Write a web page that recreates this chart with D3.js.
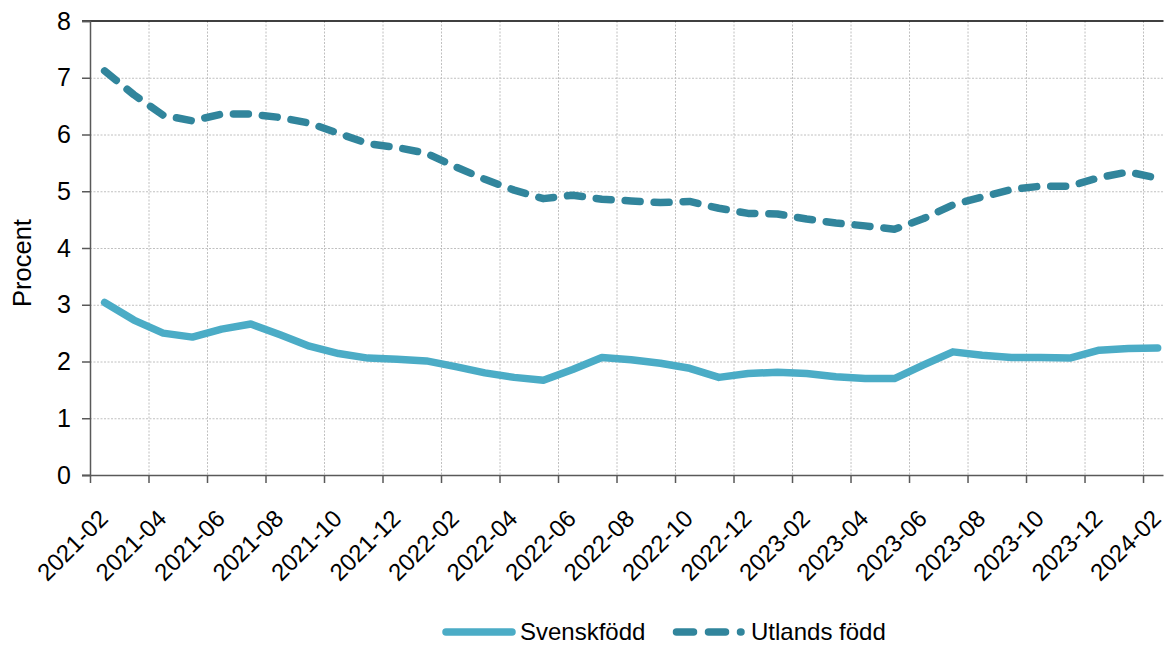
<!DOCTYPE html>
<html>
<head>
<meta charset="utf-8">
<script src="https://cdn.jsdelivr.net/npm/d3@7"></script>
<style>
  html, body { margin: 0; padding: 0; background: #fff; }
  svg { display: block; font-family: "Liberation Sans", Arial, sans-serif; }
</style>
</head>
<body>
<svg id="chart" width="1165" height="646"></svg>
<script>
const months = ["2021-02","2021-03","2021-04","2021-05","2021-06","2021-07","2021-08","2021-09","2021-10","2021-11","2021-12",
  "2022-01","2022-02","2022-03","2022-04","2022-05","2022-06","2022-07","2022-08","2022-09","2022-10","2022-11","2022-12",
  "2023-01","2023-02","2023-03","2023-04","2023-05","2023-06","2023-07","2023-08","2023-09","2023-10","2023-11","2023-12",
  "2024-01","2024-02"];
const svenskfodd = [3.04,2.73,2.50,2.43,2.57,2.66,2.47,2.27,2.14,2.06,2.04,2.01,1.91,1.80,1.72,1.67,1.86,2.07,2.03,1.97,1.88,
  1.72,1.79,1.81,1.79,1.73,1.70,1.70,1.94,2.17,2.11,2.07,2.07,2.06,2.20,2.23,2.24];
const utlandsFodd = [7.12,6.70,6.34,6.24,6.36,6.36,6.30,6.20,6.02,5.84,5.77,5.67,5.43,5.21,5.02,4.87,4.93,4.86,4.83,4.80,4.82,
  4.70,4.61,4.60,4.51,4.44,4.39,4.33,4.52,4.76,4.90,5.03,5.09,5.09,5.24,5.34,5.23];
const yTicks = [0,1,2,3,4,5,6,7,8];
const seriesNames = ["Svenskfödd", "Utlands född"];

(function () {
const svg = d3.select("#chart");
const pLeft = 90, pRight = 1163.5, pTop = 21, pBottom = 475;

const x = d3.scaleLinear().domain([0, 36.7]).range([pLeft, pRight]);
const y = d3.scaleLinear().domain([0, 8]).range([pBottom, pTop]);
const xTickIdx = d3.range(0, months.length, 2);

// gridlines
const grid = svg.append("g");
grid.selectAll("line.h").data(yTicks.filter(d => d > 0 && d < 8)).join("line")
  .attr("x1", pLeft).attr("x2", pRight).attr("y1", d => y(d) + 0.5).attr("y2", d => y(d) + 0.5)
  .attr("stroke", "#c0c0c0").attr("stroke-width", 1).attr("stroke-dasharray", "2,1.5");
grid.selectAll("line.v").data(xTickIdx.filter(d => d > 0)).join("line")
  .attr("x1", d => x(d) + 0.5).attr("x2", d => x(d) + 0.5).attr("y1", pTop).attr("y2", pBottom)
  .attr("stroke", "#c0c0c0").attr("stroke-width", 1).attr("stroke-dasharray", "2,1.5");

// top line (solid)
svg.append("line").attr("x1", pLeft - 8).attr("x2", pRight).attr("y1", y(8)).attr("y2", y(8))
  .attr("stroke", "#000").attr("stroke-width", 1.5);

// y axis
const yAxis = svg.append("g").attr("transform", `translate(${pLeft},0)`)
  .call(d3.axisLeft(y).tickValues(yTicks).tickSize(8).tickPadding(11).tickFormat(d3.format("d")));
yAxis.attr("font-size", null).attr("font-family", null);
yAxis.select(".domain").attr("stroke", "#595959").attr("stroke-width", 1.5);
yAxis.selectAll(".tick line").attr("stroke", "#595959").attr("stroke-width", 1.5);
yAxis.selectAll(".tick text").style("font-size", "25px").attr("fill", "#000");

// x axis
const xAxis = svg.append("g").attr("transform", `translate(0,${pBottom})`)
  .call(d3.axisBottom(x).tickValues(xTickIdx).tickSize(8).tickFormat(i => months[i]));
xAxis.attr("font-size", null).attr("font-family", null);
xAxis.select(".domain").attr("stroke", "#595959").attr("stroke-width", 1.5)
  .attr("d", `M${pLeft - 8},0.5H${pRight}`);
xAxis.selectAll(".tick line").attr("stroke", "#595959").attr("stroke-width", 1.5);
xAxis.selectAll(".tick text")
  .style("font-size", "24px").attr("fill", "#000")
  .attr("text-anchor", "end")
  .attr("dy", null)
  .attr("y", 0)
  .attr("transform", "translate(19,45) rotate(-45)");

// axis title
svg.append("text").attr("transform", `translate(31,263) rotate(-90)`)
  .attr("text-anchor", "middle").style("font-size", "25.5px").attr("fill", "#000").text("Procent");

// lines
const line = d3.line().x((d, i) => x(i + 0.5)).y(d => y(d));
svg.append("path").datum(svenskfodd).attr("d", line)
  .attr("fill", "none").attr("stroke", "#4bacc6").attr("stroke-width", 7.5)
  .attr("stroke-linecap", "round").attr("stroke-linejoin", "round");
svg.append("path").datum(utlandsFodd).attr("d", line)
  .attr("fill", "none").attr("stroke", "#31859c").attr("stroke-width", 7.5)
  .attr("stroke-linecap", "round").attr("stroke-linejoin", "round")
  .attr("stroke-dasharray", "15,14");

// legend
const lg = svg.append("g");
lg.append("line").attr("x1", 446).attr("x2", 512).attr("y1", 632).attr("y2", 632)
  .attr("stroke", "#4bacc6").attr("stroke-width", 7.5).attr("stroke-linecap", "round");
lg.append("text").attr("x", 520).attr("y", 640).style("font-size", "24px").attr("fill", "#000").text(seriesNames[0]);
lg.append("line").attr("x1", 676.5).attr("x2", 741).attr("y1", 632).attr("y2", 632)
  .attr("stroke", "#31859c").attr("stroke-width", 7.5).attr("stroke-linecap", "round")
  .attr("stroke-dasharray", "17,15");
lg.append("text").attr("x", 751).attr("y", 640).style("font-size", "24px").attr("fill", "#000").text(seriesNames[1]);
})();
</script>
</body>
</html>
